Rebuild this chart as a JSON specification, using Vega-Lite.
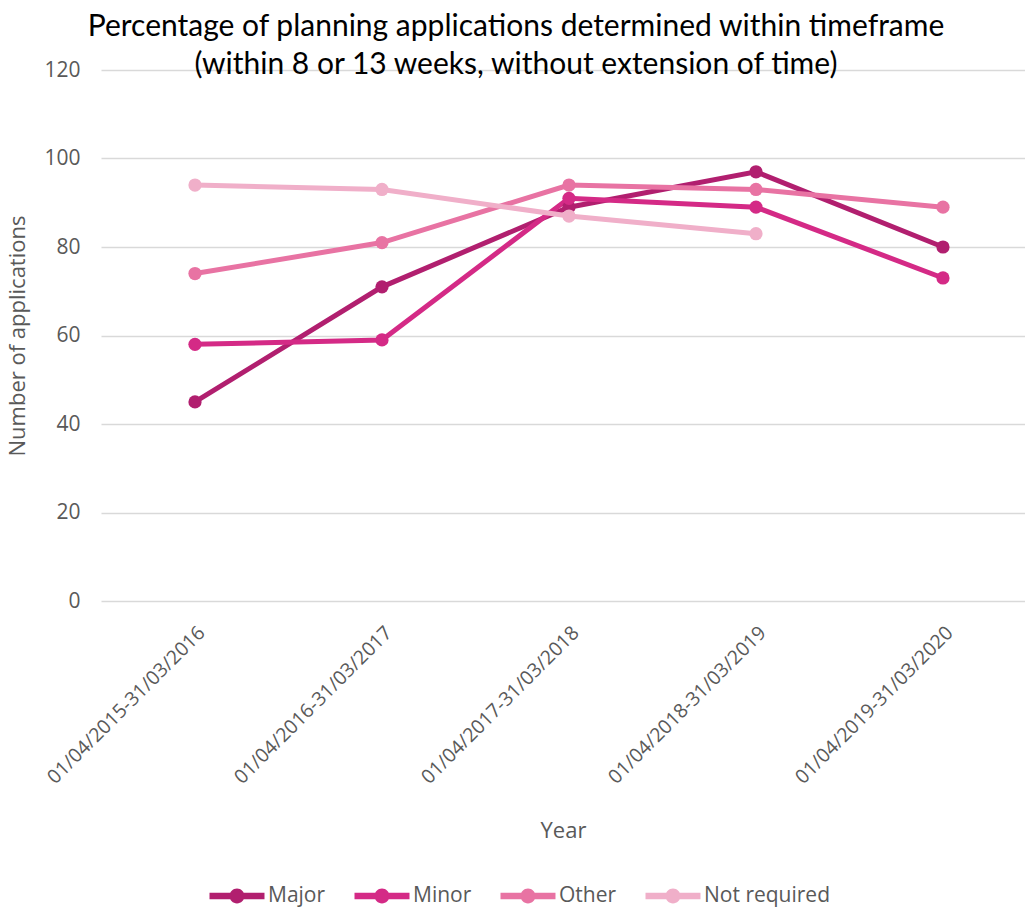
{
  "$schema": "https://vega.github.io/schema/vega-lite/v6.json",
  "autosize": "none",
  "width": 924,
  "height": 531,
  "padding": {"left": 101, "top": 70, "right": 0, "bottom": 307},
  "background": "white",
  "title": {
    "text": ["Percentage of planning applications determined within timeframe", "(within 8 or 13 weeks, without extension of time)"],
    "font": "Lato",
    "fontSize": 30,
    "fontWeight": "normal",
    "color": "#000000",
    "anchor": "middle",
    "frame": "bounds",
    "lineHeight": 38,
    "offset": -21
  },
  "data": {
    "values": [
      {"period": "01/04/2015-31/03/2016", "series": "Major", "value": 45},
      {"period": "01/04/2016-31/03/2017", "series": "Major", "value": 71},
      {"period": "01/04/2017-31/03/2018", "series": "Major", "value": 89},
      {"period": "01/04/2018-31/03/2019", "series": "Major", "value": 97},
      {"period": "01/04/2019-31/03/2020", "series": "Major", "value": 80},
      {"period": "01/04/2015-31/03/2016", "series": "Minor", "value": 58},
      {"period": "01/04/2016-31/03/2017", "series": "Minor", "value": 59},
      {"period": "01/04/2017-31/03/2018", "series": "Minor", "value": 91},
      {"period": "01/04/2018-31/03/2019", "series": "Minor", "value": 89},
      {"period": "01/04/2019-31/03/2020", "series": "Minor", "value": 73},
      {"period": "01/04/2015-31/03/2016", "series": "Other", "value": 74},
      {"period": "01/04/2016-31/03/2017", "series": "Other", "value": 81},
      {"period": "01/04/2017-31/03/2018", "series": "Other", "value": 94},
      {"period": "01/04/2018-31/03/2019", "series": "Other", "value": 93},
      {"period": "01/04/2019-31/03/2020", "series": "Other", "value": 89},
      {"period": "01/04/2015-31/03/2016", "series": "Not required", "value": 94},
      {"period": "01/04/2016-31/03/2017", "series": "Not required", "value": 93},
      {"period": "01/04/2017-31/03/2018", "series": "Not required", "value": 87},
      {"period": "01/04/2018-31/03/2019", "series": "Not required", "value": 83}
    ]
  },
  "mark": {"type": "line", "strokeWidth": 5, "point": {"filled": true, "size": 175, "opacity": 1}},
  "encoding": {
    "x": {
      "field": "period",
      "type": "ordinal",
      "sort": null,
      "scale": {"type": "point", "padding": 0.4706, "align": 0.534},
      "axis": {
        "title": "Year",
        "titleFont": "Open Sans",
        "titleFontSize": 22,
        "titleFontWeight": "normal",
        "titleColor": "#595959",
        "titlePadding": 34,
        "labelFont": "Open Sans",
        "labelFontSize": 19.5,
        "labelColor": "#595959",
        "labelAngle": -45,
        "labelPadding": 22,
        "labelLimit": 0,
        "domain": false,
        "ticks": false,
        "grid": false
      }
    },
    "y": {
      "field": "value",
      "type": "quantitative",
      "scale": {"domain": [0, 120]},
      "axis": {
        "title": "Number of applications",
        "titleFont": "Open Sans",
        "titleFontSize": 22,
        "titleFontWeight": "normal",
        "titleColor": "#595959",
        "titlePadding": 14,
        "labelFont": "Open Sans",
        "labelFontSize": 21,
        "labelColor": "#595959",
        "labelPadding": 21,
        "values": [0, 20, 40, 60, 80, 100, 120],
        "domain": false,
        "ticks": false,
        "grid": true,
        "gridColor": "#d9d9d9",
        "gridWidth": 1.5
      }
    },
    "color": {
      "field": "series",
      "type": "nominal",
      "sort": ["Major", "Minor", "Other", "Not required"],
      "scale": {
        "domain": ["Major", "Minor", "Other", "Not required"],
        "range": ["#B11F6F", "#D42A86", "#E873A3", "#F0AFC9"]
      },
      "legend": {
        "title": null,
        "orient": "none",
        "legendX": 122,
        "legendY": 812,
        "direction": "horizontal",
        "symbolType": "M-2,-0.24 H2 V0.24 H-2 Z M-0.54,0 A0.54,0.54 0 1,1 0.54,0 A0.54,0.54 0 1,1 -0.54,0 Z",
        "symbolSize": 756,
        "symbolStrokeWidth": 0,
        "symbolOpacity": 1,
        "labelFont": "Open Sans",
        "labelFontSize": 21,
        "labelColor": "#595959",
        "labelOffset": 17,
        "columnPadding": 28
      }
    }
  },
  "config": {"view": {"stroke": null}}
}
